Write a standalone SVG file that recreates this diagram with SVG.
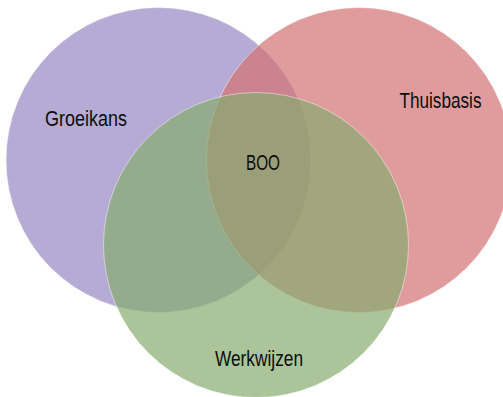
<svg xmlns="http://www.w3.org/2000/svg" width="503" height="397" viewBox="0 0 503 397">
  <style>
    .set { fill-opacity: 0.7; stroke: #ffffff; stroke-opacity: 0.45; stroke-width: 1; }
    .label { font-family: "Liberation Sans Narrow", "Liberation Sans", Arial, sans-serif; font-size: 22px; fill: #0d0d0d; }
  </style>
  <rect width="503" height="397" fill="#ffffff"/>
  <g id="groeikans">
    <circle class="set" cx="158.5" cy="160" r="152.5" fill="#9588c2"/>
    <text class="label" x="45" y="126" textLength="82" lengthAdjust="spacingAndGlyphs">Groeikans</text>
  </g>
  <g id="thuisbasis">
    <circle class="set" cx="359" cy="160" r="152.5" fill="#d37272"/>
    <text class="label" x="399.5" y="107.5" textLength="82" lengthAdjust="spacingAndGlyphs">Thuisbasis</text>
  </g>
  <g id="werkwijzen">
    <circle class="set" cx="256" cy="245" r="152.5" fill="#87ab6f"/>
    <text class="label" x="215" y="365.5" textLength="88" lengthAdjust="spacingAndGlyphs">Werkwijzen</text>
  </g>
  <g id="boo">
    <text class="label" x="246" y="170" textLength="34" lengthAdjust="spacingAndGlyphs">BOO</text>
  </g>
  <g id="connectors"/>
</svg>
